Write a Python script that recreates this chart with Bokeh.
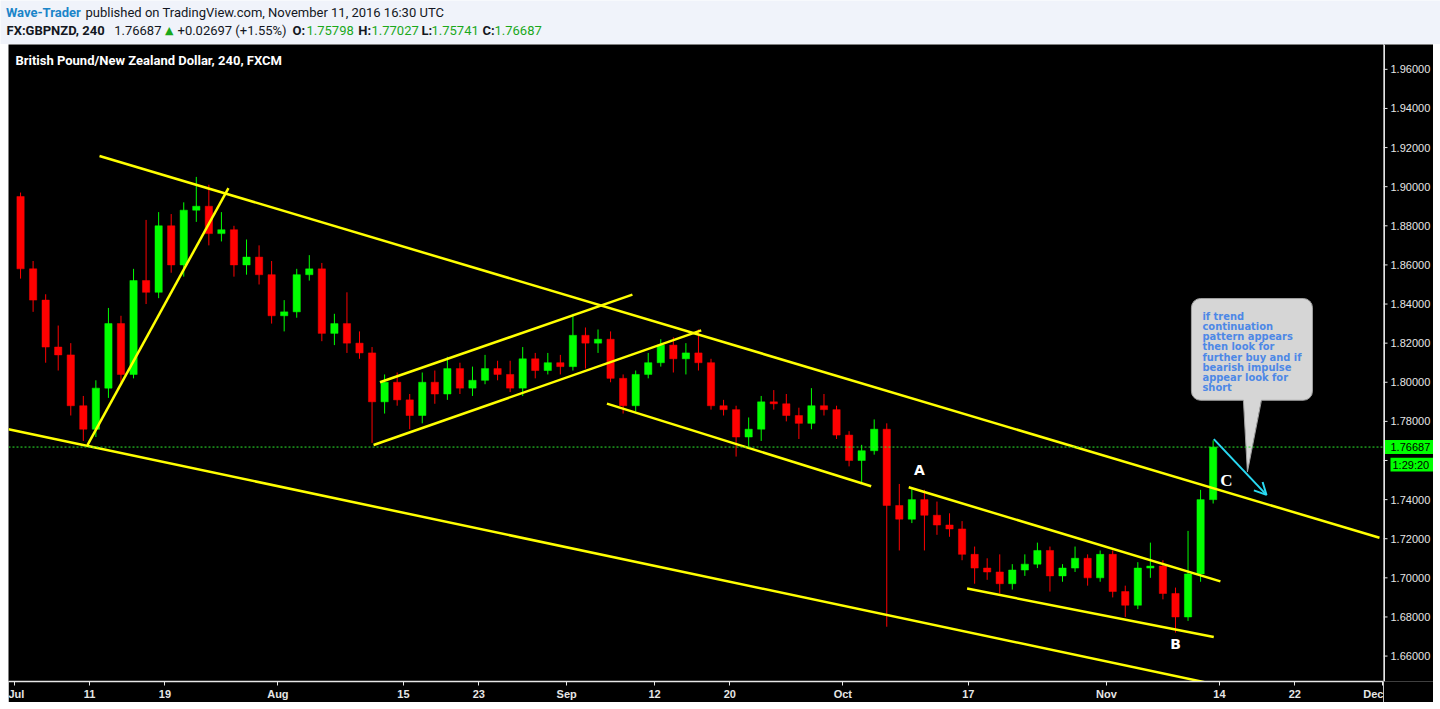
import pandas as pd
from bokeh.plotting import figure
from bokeh.layouts import column, row
from bokeh.models import (Range1d, FixedTicker, Arrow, OpenHead, ColumnDataSource, Span, Spacer)
from bokeh.core.properties import value
from bokeh.embed import file_html
from bokeh.resources import INLINE

# ---------------- data ----------------
all_days = pd.bdate_range("2016-07-01", "2016-12-01")   # trading-day axis
n_candles = 96                                           # Jul 1 .. Nov 11

opens = [1.895, 1.858, 1.842, 1.818, 1.814, 1.788, 1.776, 1.797, 1.830, 1.804,
         1.852, 1.846, 1.880, 1.860, 1.888, 1.890, 1.876, 1.878, 1.860, 1.864,
         1.855, 1.834, 1.836, 1.855, 1.858, 1.825, 1.830, 1.820, 1.815, 1.790,
         1.800, 1.791, 1.783, 1.800, 1.794, 1.807, 1.797, 1.801, 1.807, 1.804,
         1.797, 1.812, 1.806, 1.810, 1.808, 1.824, 1.820, 1.822, 1.802, 1.788,
         1.804, 1.810, 1.819, 1.812, 1.815, 1.810, 1.788, 1.786, 1.772, 1.776,
         1.790, 1.789, 1.783, 1.779, 1.788, 1.786, 1.773, 1.760, 1.765, 1.776,
         1.737, 1.730, 1.740, 1.732, 1.727, 1.725, 1.712, 1.705, 1.703, 1.697,
         1.704, 1.707, 1.714, 1.701, 1.705, 1.710, 1.700, 1.712, 1.693, 1.686,
         1.705, 1.706, 1.692, 1.680, 1.702, 1.740]
highs = [1.897, 1.862, 1.845, 1.829, 1.820, 1.793, 1.801, 1.838, 1.834, 1.858,
         1.883, 1.887, 1.886, 1.892, 1.905, 1.901, 1.887, 1.880, 1.873, 1.870,
         1.862, 1.842, 1.858, 1.865, 1.861, 1.835, 1.846, 1.826, 1.818, 1.804,
         1.805, 1.794, 1.805, 1.806, 1.813, 1.810, 1.808, 1.814, 1.811, 1.811,
         1.818, 1.815, 1.815, 1.814, 1.835, 1.828, 1.827, 1.826, 1.804, 1.806,
         1.815, 1.822, 1.823, 1.820, 1.827, 1.812, 1.791, 1.788, 1.782, 1.793,
         1.796, 1.794, 1.787, 1.797, 1.794, 1.788, 1.775, 1.768, 1.781, 1.779,
         1.748, 1.746, 1.745, 1.739, 1.733, 1.729, 1.716, 1.710, 1.712, 1.707,
         1.712, 1.718, 1.716, 1.707, 1.716, 1.712, 1.714, 1.714, 1.696, 1.708,
         1.718, 1.709, 1.695, 1.724, 1.745, 1.77027]
lows = [1.853, 1.836, 1.810, 1.806, 1.783, 1.770, 1.772, 1.792, 1.800, 1.802,
        1.840, 1.843, 1.856, 1.854, 1.882, 1.870, 1.872, 1.854, 1.855, 1.850,
        1.830, 1.826, 1.833, 1.852, 1.821, 1.819, 1.815, 1.812, 1.769, 1.784,
        1.788, 1.776, 1.779, 1.789, 1.791, 1.794, 1.793, 1.799, 1.801, 1.795,
        1.793, 1.802, 1.804, 1.804, 1.806, 1.807, 1.815, 1.800, 1.784, 1.785,
        1.802, 1.808, 1.805, 1.804, 1.806, 1.786, 1.783, 1.762, 1.767, 1.770,
        1.786, 1.780, 1.771, 1.776, 1.783, 1.771, 1.757, 1.749, 1.763, 1.675,
        1.714, 1.728, 1.714, 1.722, 1.721, 1.709, 1.697, 1.699, 1.692, 1.694,
        1.701, 1.705, 1.693, 1.698, 1.703, 1.696, 1.698, 1.690, 1.680, 1.684,
        1.700, 1.689, 1.672, 1.678, 1.698, 1.738]
closes = [1.858, 1.842, 1.818, 1.814, 1.788, 1.776, 1.797, 1.830, 1.804, 1.852,
          1.846, 1.880, 1.860, 1.888, 1.890, 1.876, 1.878, 1.860, 1.864, 1.855,
          1.834, 1.836, 1.855, 1.858, 1.825, 1.830, 1.820, 1.815, 1.790, 1.800,
          1.791, 1.783, 1.800, 1.794, 1.807, 1.797, 1.801, 1.807, 1.804, 1.797,
          1.812, 1.806, 1.810, 1.808, 1.824, 1.820, 1.822, 1.802, 1.788, 1.804,
          1.810, 1.819, 1.812, 1.815, 1.810, 1.788, 1.786, 1.772, 1.776, 1.790,
          1.789, 1.783, 1.779, 1.788, 1.786, 1.773, 1.760, 1.765, 1.776, 1.737,
          1.730, 1.740, 1.732, 1.727, 1.725, 1.712, 1.705, 1.703, 1.697, 1.704,
          1.707, 1.714, 1.701, 1.705, 1.710, 1.700, 1.712, 1.693, 1.686, 1.705,
          1.706, 1.692, 1.680, 1.702, 1.740, 1.76687]

last_price = 1.76687
last_price_text = "1.76687"
countdown_price = 1.7579
countdown_text = "1:29:20"

tick_dates = ["2016-07-01", "2016-07-11", "2016-07-19", "2016-08-01", "2016-08-15",
              "2016-08-23", "2016-09-01", "2016-09-12", "2016-09-20", "2016-10-03",
              "2016-10-17", "2016-11-01", "2016-11-14", "2016-11-22", "2016-12-01"]
tick_labels = ["Jul", "11", "19", "Aug", "15", "23", "Sep", "12", "20", "Oct",
               "17", "Nov", "14", "22", "Dec"]
price_ticks = [1.66, 1.68, 1.70, 1.72, 1.74, 1.76, 1.78, 1.80, 1.82, 1.84,
               1.86, 1.88, 1.90, 1.92, 1.94, 1.96]

# drawings (trading-day index, price)
trend_x0 = [6.79, -0.46, 5.83, 29.13, 28.62, 47.21, 71.25, 75.90]
trend_y0 = [1.9157, 1.7760, 1.7679, 1.8000, 1.7679, 1.7891, 1.7463, 1.6945]
trend_x1 = [108.75, 100.0, 17.06, 49.24, 54.72, 68.26, 96.08, 95.55]
trend_y1 = [1.7205, 1.6396, 1.8993, 1.8448, 1.8265, 1.7468, 1.6982, 1.6698]

arrow_start = (95.55, 1.7709)
arrow_end = (99.75, 1.7424)

callout_box = dict(left=93.77, right=103.41, bottom=1.7908, top=1.8428)
callout_tail_x = [97.91, 99.35, 98.23]
callout_tail_y = [1.7915, 1.7915, 1.7541]
callout_text = ("if trend\ncontinuation\npattern appears\nthen look for\n"
                "further buy and if\nbearish impulse\nappear look for\nshort")
callout_text_pos = (94.65, 1.8372)

wave_labels = ["A", "B", "C"]
wave_x = [72.1, 92.5, 96.56]
wave_y = [1.7551, 1.6664, 1.7500]

# ---------------- colors ----------------
UP = "#00ff00"
DOWN = "#ff0000"
YELLOW = "#ffff00"
CYAN = "#29d9f2"
AXIS = "#e6e6e6"
BG_PAGE = "#f0f3fa"

X_RANGE = (-0.46, 109.07)
Y_RANGE = (1.6470, 1.9727)
FRAME_H = 639
PX_PER_PRICE = FRAME_H / (Y_RANGE[1] - Y_RANGE[0])

# ---------------- main chart ----------------
xs = [i + 0.5 for i in range(n_candles)]
colors = [UP if c >= o else DOWN for o, c in zip(opens, closes)]
src = ColumnDataSource(dict(
    x=xs, open=opens, high=highs, low=lows, close=closes,
    top=[max(o, c) for o, c in zip(opens, closes)],
    bottom=[min(o, c) for o, c in zip(opens, closes)],
    color=colors,
))

yr = Range1d(*Y_RANGE)
p = figure(width=1375, height=658, x_range=Range1d(*X_RANGE), y_range=yr,
           y_axis_location=None, output_backend="svg", toolbar_location=None,
           background_fill_color="black", border_fill_color="black",
           outline_line_color=None,
           min_border_left=0, min_border_top=0, min_border_right=0, min_border_bottom=19)
p.grid.visible = False

# candles
p.segment(x0="x", y0="low", x1="x", y1="high", source=src, line_color="color", line_width=1)
p.vbar(x="x", width=0.58, top="top", bottom="bottom", source=src,
       fill_color="color", line_color="color", line_width=0.5)

# last price line
p.add_layout(Span(location=last_price, dimension="width", line_color="#2ee82e",
                  line_dash="2 2", line_width=1))

# trend lines
p.segment(x0=trend_x0, y0=trend_y0, x1=trend_x1, y1=trend_y1,
          line_color=YELLOW, line_width=2.5)

# cyan arrow
p.add_layout(Arrow(end=OpenHead(size=12, line_color=CYAN, line_width=2),
                   x_start=arrow_start[0], y_start=arrow_start[1],
                   x_end=arrow_end[0], y_end=arrow_end[1],
                   line_color=CYAN, line_width=2))

# callout
p.quad(left=[callout_box["left"]], right=[callout_box["right"]],
       bottom=[callout_box["bottom"]], top=[callout_box["top"]],
       fill_color="#d6d6d6", line_color="#a0a0a0", line_width=1, border_radius=9)
p.patch(callout_tail_x, callout_tail_y, fill_color="#d6d6d6", line_color=None)
p.multi_line([[callout_tail_x[0], callout_tail_x[2]], [callout_tail_x[1], callout_tail_x[2]]],
             [[callout_box["bottom"], callout_tail_y[2]], [callout_box["bottom"], callout_tail_y[2]]],
             line_color="#a0a0a0", line_width=1)
p.text(x=[callout_text_pos[0]], y=[callout_text_pos[1]], text=[callout_text],
       text_font=value("DejaVu Sans Condensed"), text_font_style="bold",
       text_font_size="11px", text_color="#4d88e6", text_baseline="top",
       text_align="left", text_line_height=0.79)

# wave labels
p.text(x=wave_x[:2], y=wave_y[:2], text=wave_labels[:2], text_font=value("DejaVu Sans"),
       text_font_style="bold", text_font_size="14px", text_color="white",
       text_align="center", text_baseline="middle")
p.text(x=wave_x[2:], y=wave_y[2:], text=wave_labels[2:], text_font=value("Liberation Serif"),
       text_font_style="bold", text_font_size="17px", text_color="white",
       text_align="center", text_baseline="middle")

# chart title
p.text(x=[0.09], y=[1.9646], text=["British Pound/New Zealand Dollar, 240, FXCM"],
       text_font=value("Roboto"), text_font_style="bold", text_font_size="13px",
       text_color="white", text_align="left", text_baseline="middle")

# date axis
tick_pos = [int(all_days.get_loc(pd.Timestamp(d))) for d in tick_dates]
ax = p.xaxis[0]
ax.ticker = FixedTicker(ticks=tick_pos)
ax.major_label_overrides = {t: lab for t, lab in zip(tick_pos, tick_labels)}
ax.axis_line_color = AXIS
ax.axis_line_width = 1.5
ax.major_tick_line_color = AXIS
ax.major_tick_out = 4
ax.major_tick_in = 0
ax.minor_tick_line_color = None
ax.major_label_text_color = AXIS
ax.major_label_text_font = "Liberation Sans"
ax.major_label_text_font_size = "11px"
ax.major_label_text_font_style = "bold"
ax.major_label_standoff = 2

# ---------------- price axis panel ----------------
r = figure(width=50, height=658, x_range=Range1d(0, 50), y_range=yr,
           x_axis_type=None, y_axis_type=None, output_backend="svg", toolbar_location=None,
           background_fill_color="black", border_fill_color="black",
           outline_line_color=None,
           min_border_left=0, min_border_top=0, min_border_right=0, min_border_bottom=19)
r.grid.visible = False
r.add_layout(Span(location=0.75, dimension="height", line_color=AXIS, line_width=1.5))
r.segment(x0=[0] * len(price_ticks), x1=[4] * len(price_ticks), y0=price_ticks, y1=price_ticks,
          line_color=AXIS, line_width=1)
# like TradingView, hide scale labels that collide with the price / countdown labels
shown_ticks = [t for t in price_ticks
               if abs(t - last_price) * PX_PER_PRICE > 12 and abs(t - countdown_price) * PX_PER_PRICE > 12]
r.text(x=[7] * len(shown_ticks), y=shown_ticks, text=["%.5f" % t for t in shown_ticks],
       text_font=value("Liberation Sans"), text_font_size="11px", text_color=AXIS,
       text_baseline="middle", text_align="left")
half = 7 / PX_PER_PRICE
r.quad(left=[0, 7], right=[50, 50],
       bottom=[last_price - half, countdown_price - half],
       top=[last_price + half, countdown_price + half],
       fill_color="#00ff00", line_color=None)
r.text(x=[7, 9], y=[last_price, countdown_price], text=[last_price_text, countdown_text],
       text_font=value("Liberation Sans"), text_font_size="11px", text_color="black",
       text_baseline="middle", text_align="left")

# ---------------- header ----------------
h = figure(width=1440, height=44, x_range=Range1d(0, 1440), y_range=Range1d(44, 0),
           x_axis_type=None, y_axis_type=None, output_backend="svg", toolbar_location=None,
           background_fill_color=BG_PAGE, border_fill_color=BG_PAGE,
           outline_line_color=None, min_border=0)
h.grid.visible = False

hdr_text = ["Wave-Trader", "published on TradingView.com, November 11, 2016 16:30 UTC",
            "FX:GBPNZD, 240", "1.76687", "+0.02697 (+1.55%)", "O:", "1.75798", "H:",
            "1.77027", "L:", "1.75741", "C:", "1.76687"]
hdr_x = [5.4, 85, 6, 113.7, 177, 292, 306, 357.8, 371, 421, 431, 482, 494]
hdr_y = [12, 12, 30, 30, 30, 30, 30, 30, 30, 30, 30, 30, 30]
hdr_color = ["#1b85c9", "#131722", "#131722", "#131722", "#131722", "#131722", "#1aa81a",
             "#131722", "#1aa81a", "#131722", "#1aa81a", "#131722", "#1aa81a"]
hdr_style = ["bold", "normal", "bold", "normal", "normal", "bold", "normal", "bold",
             "normal", "bold", "normal", "bold", "normal"]
hsrc = ColumnDataSource(dict(x=hdr_x, y=hdr_y, text=hdr_text, color=hdr_color, style=hdr_style))
h.text(x="x", y="y", text="text", source=hsrc, text_color="color", text_font_style="style",
       text_font=value("Roboto"), text_font_size="13px", text_baseline="middle",
       text_align="left")
h.text(x=[164.6], y=[30], text=["\u25b2"], text_font=value("DejaVu Sans"),
       text_font_size="11px", text_color="#1aa81a", text_baseline="middle", text_align="left")

layout = column(h, row(Spacer(width=8, height=658), p, r, spacing=0), spacing=0)

html = file_html(layout, INLINE, title="GBPNZD")
html = html.replace("<body>", '<body style="background-color:%s;">' % BG_PAGE, 1)
open("out.html", "w").write(html)
